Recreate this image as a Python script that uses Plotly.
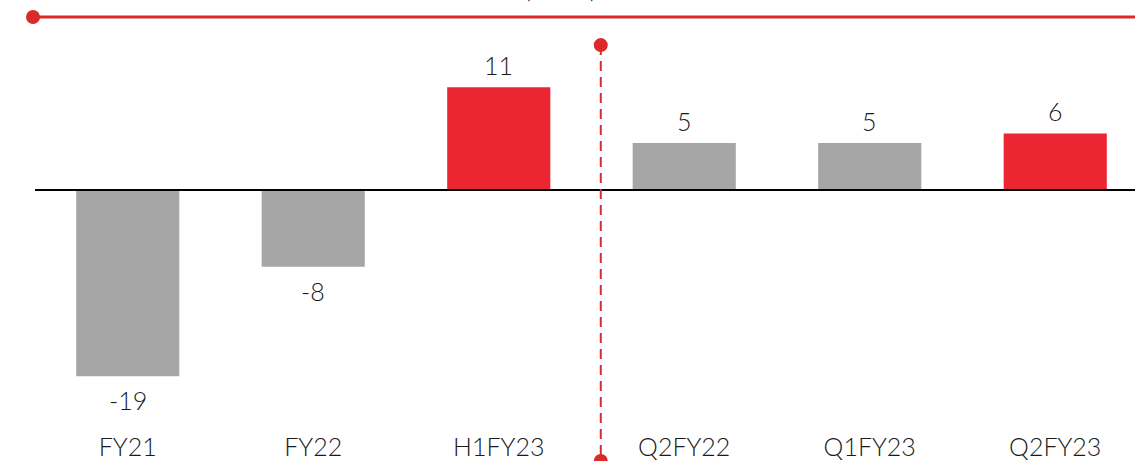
import plotly.graph_objects as go

categories = ["FY21", "FY22", "H1FY23", "Q2FY22", "Q1FY23", "Q2FY23"]
values = [-19.4, -8.0, 10.7, 4.9, 4.9, 5.9]
bar_colors = ["#A6A6A6", "#A6A6A6", "#EC2533", "#A6A6A6", "#A6A6A6", "#EC2533"]
title_text = "(Rs bn)"

RED = "#DA2A2A"
FONT = "Lato"
TXT = "#1a1a1a"

fig = go.Figure()
xs = list(range(len(categories)))
fig.add_trace(go.Bar(
    x=xs,
    y=values,
    marker=dict(color=bar_colors, line=dict(width=0)),
    width=0.556,
    cliponaxis=False,
))

annotations = []
for xi, v in zip(xs, values):
    annotations.append(dict(x=xi, y=v, xref="x", yref="y", text=f"{v:.0f}", showarrow=False,
                            xanchor="center", yanchor="middle",
                            yshift=22 if v >= 0 else -24,
                            font=dict(family=FONT, size=25, color=TXT, weight=300)))
annotations.append(dict(text=title_text, xref="paper", yref="paper", x=(560 - 35) / 1100, y=1.106,
                        xanchor="center", yanchor="middle", showarrow=False,
                        font=dict(family=FONT, size=25, color=TXT, weight=300)))

shapes = []
# zero line
shapes.append(dict(type="line", xref="paper", yref="y", x0=0, x1=1, y0=0, y1=0,
                   line=dict(color="black", width=2)))
# top horizontal red line
shapes.append(dict(type="line", xref="paper", yref="paper", x0=-0.0018, x1=1, y0=1.0327, y1=1.0327,
                   line=dict(color=RED, width=3)))
shapes.append(dict(type="circle", xref="paper", yref="paper", xsizemode="pixel", ysizemode="pixel",
                   xanchor=-0.0018, yanchor=1.0327, x0=-7, x1=7, y0=-7, y1=7,
                   fillcolor=RED, line=dict(width=0)))
# vertical dashed divider
shapes.append(dict(type="line", xref="x", yref="paper", x0=2.55, x1=2.55, y0=0.962, y1=-0.083,
                   line=dict(color=RED, width=2, dash="10px,6px")))
for yy in (0.962, -0.083):
    shapes.append(dict(type="circle", xref="x", yref="paper", xsizemode="pixel", ysizemode="pixel",
                       xanchor=2.55, yanchor=yy, x0=-7, x1=7, y0=-7, y1=7,
                       fillcolor=RED, line=dict(width=0)))

fig.update_layout(
    width=1135, height=461,
    margin=dict(l=35, r=0, t=30, b=33),
    paper_bgcolor="white", plot_bgcolor="white",
    showlegend=False,
    shapes=shapes,
    annotations=annotations,
    xaxis=dict(range=[-0.5, 5.43], tickmode="array", tickvals=xs,
               ticktext=categories, showgrid=False, zeroline=False, showline=False,
               ticks="", ticklabelstandoff=2,
               tickfont=dict(family=FONT, size=25, color=TXT, weight=300)),
    yaxis=dict(range=[-24.79, 16.67], visible=False, showgrid=False, zeroline=False),
)

fig.write_html("out.html")
